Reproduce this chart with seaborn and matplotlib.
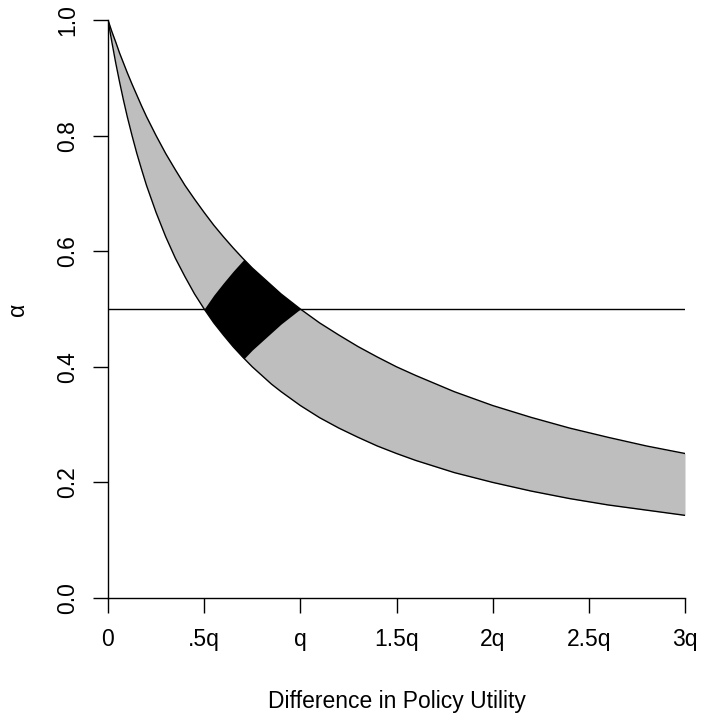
import matplotlib
matplotlib.use("Agg")
import matplotlib.pyplot as plt
import seaborn as sns
import pandas as pd

# Values
x_vals = [0, 0.02, 0.04, 0.06, 0.08, 0.1, 0.125, 0.15, 0.175, 0.2, 0.25, 0.3,
          0.35, 0.4, 0.45, 0.5, 0.55, 0.6, 0.65, 0.7, 0.75, 0.8, 0.85, 0.9,
          0.95, 1.0, 1.1, 1.2, 1.3, 1.4, 1.5, 1.6, 1.8, 2.0, 2.2, 2.4, 2.6,
          2.8, 3.0]
upper = [1.0, 0.980, 0.962, 0.943, 0.926, 0.909, 0.889, 0.870, 0.851, 0.833,
         0.800, 0.769, 0.741, 0.714, 0.690, 0.667, 0.645, 0.625, 0.606, 0.588,
         0.571, 0.556, 0.541, 0.526, 0.513, 0.500, 0.476, 0.455, 0.435, 0.417,
         0.400, 0.385, 0.357, 0.333, 0.3125, 0.294, 0.278, 0.263, 0.250]
lower = [1.0, 0.962, 0.926, 0.893, 0.862, 0.833, 0.800, 0.769, 0.741, 0.714,
         0.667, 0.625, 0.588, 0.556, 0.526, 0.500, 0.476, 0.455, 0.435, 0.417,
         0.400, 0.385, 0.370, 0.357, 0.345, 0.333, 0.312, 0.294, 0.278, 0.263,
         0.250, 0.238, 0.217, 0.200, 0.185, 0.172, 0.161, 0.152, 0.143]

blk_x = [0.5, 0.55, 0.6, 0.65, 0.707, 0.75, 0.8, 0.85, 0.9, 0.95, 1.0]
blk_top = [0.5, 0.524, 0.545, 0.565, 0.586, 0.571, 0.556, 0.541, 0.526, 0.513, 0.5]
blk_bot = [0.5, 0.476, 0.455, 0.435, 0.414, 0.429, 0.444, 0.459, 0.474, 0.487, 0.5]

hline_x = [0, 3]
hline_y = [0.5, 0.5]

x_ticks = [0, 0.5, 1, 1.5, 2, 2.5, 3]
x_labels = ["0", ".5q", "q", "1.5q", "2q", "2.5q", "3q"]
y_ticks = [0.0, 0.2, 0.4, 0.6, 0.8, 1.0]
y_labels = ["0.0", "0.2", "0.4", "0.6", "0.8", "1.0"]

sns.set_style("white")
plt.rcParams['font.family'] = ['Liberation Sans', 'DejaVu Sans']
plt.rcParams['text.color'] = 'black'
plt.rcParams['axes.labelcolor'] = 'black'
plt.rcParams['xtick.color'] = 'black'
plt.rcParams['ytick.color'] = 'black'

fig = plt.figure(figsize=(7.02, 7.15), dpi=100)
ax = fig.add_axes([108/702, 1-598/715, (685-108)/702, (598-20)/715])

df = pd.DataFrame({"x": x_vals, "upper": upper, "lower": lower})
ax.fill_between(df["x"], df["lower"], df["upper"], color="#BEBEBE", lw=0, zorder=1)
ax.fill_between(blk_x, blk_bot, blk_top, color="black", lw=0, zorder=2)
sns.lineplot(data=df, x="x", y="upper", color="black", lw=1.0, ax=ax, zorder=3)
sns.lineplot(data=df, x="x", y="lower", color="black", lw=1.0, ax=ax, zorder=3)
sns.lineplot(x=hline_x, y=hline_y, color="black", lw=1.0, ax=ax, zorder=3)

ax.set_xlim(0, 3)
ax.set_ylim(0, 1)
for s in ["top", "right"]:
    ax.spines[s].set_visible(False)
for s in ["left", "bottom"]:
    ax.spines[s].set_color("black")
    ax.spines[s].set_linewidth(1.0)

ax.set_xticks(x_ticks)
ax.set_xticklabels(x_labels, fontsize=16.5, color="black")
ax.set_yticks(y_ticks)
ax.set_yticklabels(y_labels, fontsize=16.5, rotation=90, va="center", color="black")
ax.tick_params(axis="both", direction="out", length=10.5, width=1.0, color="black",
               bottom=True, left=True)
ax.tick_params(axis="x", pad=11)
ax.tick_params(axis="y", pad=10)

ax.set_xlabel("Difference in Policy Utility", fontsize=16.5, labelpad=28, color="black")
ax.set_ylabel("α", fontsize=16.5, labelpad=20, color="black")

fig.savefig("out.png", dpi=100)
